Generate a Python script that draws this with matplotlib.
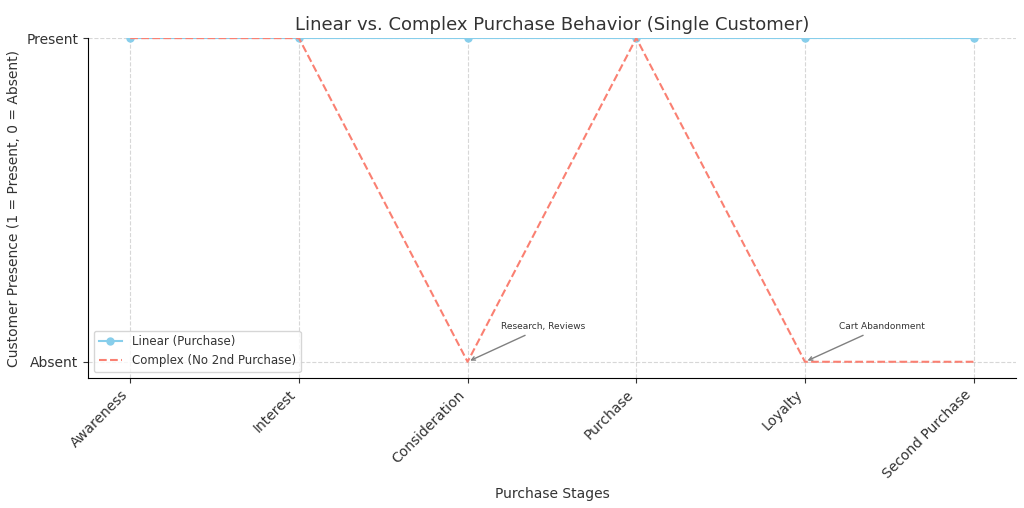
import matplotlib
matplotlib.use("Agg")
import matplotlib.pyplot as plt

stages = ["Awareness", "Interest", "Consideration", "Purchase", "Loyalty", "Second Purchase"]
linear = [1, 1, 1, 1, 1, 1]
complex_ = [1, 1, 0, 1, 0, 0]
ytick_labels = ["Absent", "Present"]

plt.rcParams["text.color"] = "#333333"
plt.rcParams["axes.labelcolor"] = "#333333"
plt.rcParams["xtick.color"] = "#333333"
plt.rcParams["ytick.color"] = "#333333"

fig, ax = plt.subplots(figsize=(10.24, 5.08), dpi=100)
x = range(len(stages))
ax.plot(x, linear, marker="o", color="skyblue", label="Linear (Purchase)", markersize=5, linewidth=1.5)
ax.plot(x, complex_, linestyle="--", color="salmon", label="Complex (No 2nd Purchase)", linewidth=1.5)
ax.set_xticks(list(x))
ax.set_xticklabels(stages, rotation=45, ha="right", fontsize=10)
ax.set_yticks([0, 1])
ax.set_yticklabels(ytick_labels, fontsize=10)
ax.set_xlabel("Purchase Stages", fontsize=10)
ax.set_ylabel("Customer Presence (1 = Present, 0 = Absent)", fontsize=10)
ax.set_title("Linear vs. Complex Purchase Behavior (Single Customer)", fontsize=13)
ax.grid(True, linestyle="--", alpha=0.5)
for s in ["top", "right"]:
    ax.spines[s].set_visible(False)
ax.annotate("Research, Reviews", xy=(2, 0), xytext=(2.2, 0.1), fontsize=6.5,
            arrowprops=dict(arrowstyle="->", color="gray"))
ax.annotate("Cart Abandonment", xy=(4, 0), xytext=(4.2, 0.1), fontsize=6.5,
            arrowprops=dict(arrowstyle="->", color="gray"))
ax.legend(loc="lower left", fontsize=8.5)
ax.set_xlim(-0.25, 5.25)
ax.set_ylim(-0.05, 1.0)
plt.subplots_adjust(left=0.086, right=0.992, top=0.925, bottom=0.256)
fig.savefig("out.png")
